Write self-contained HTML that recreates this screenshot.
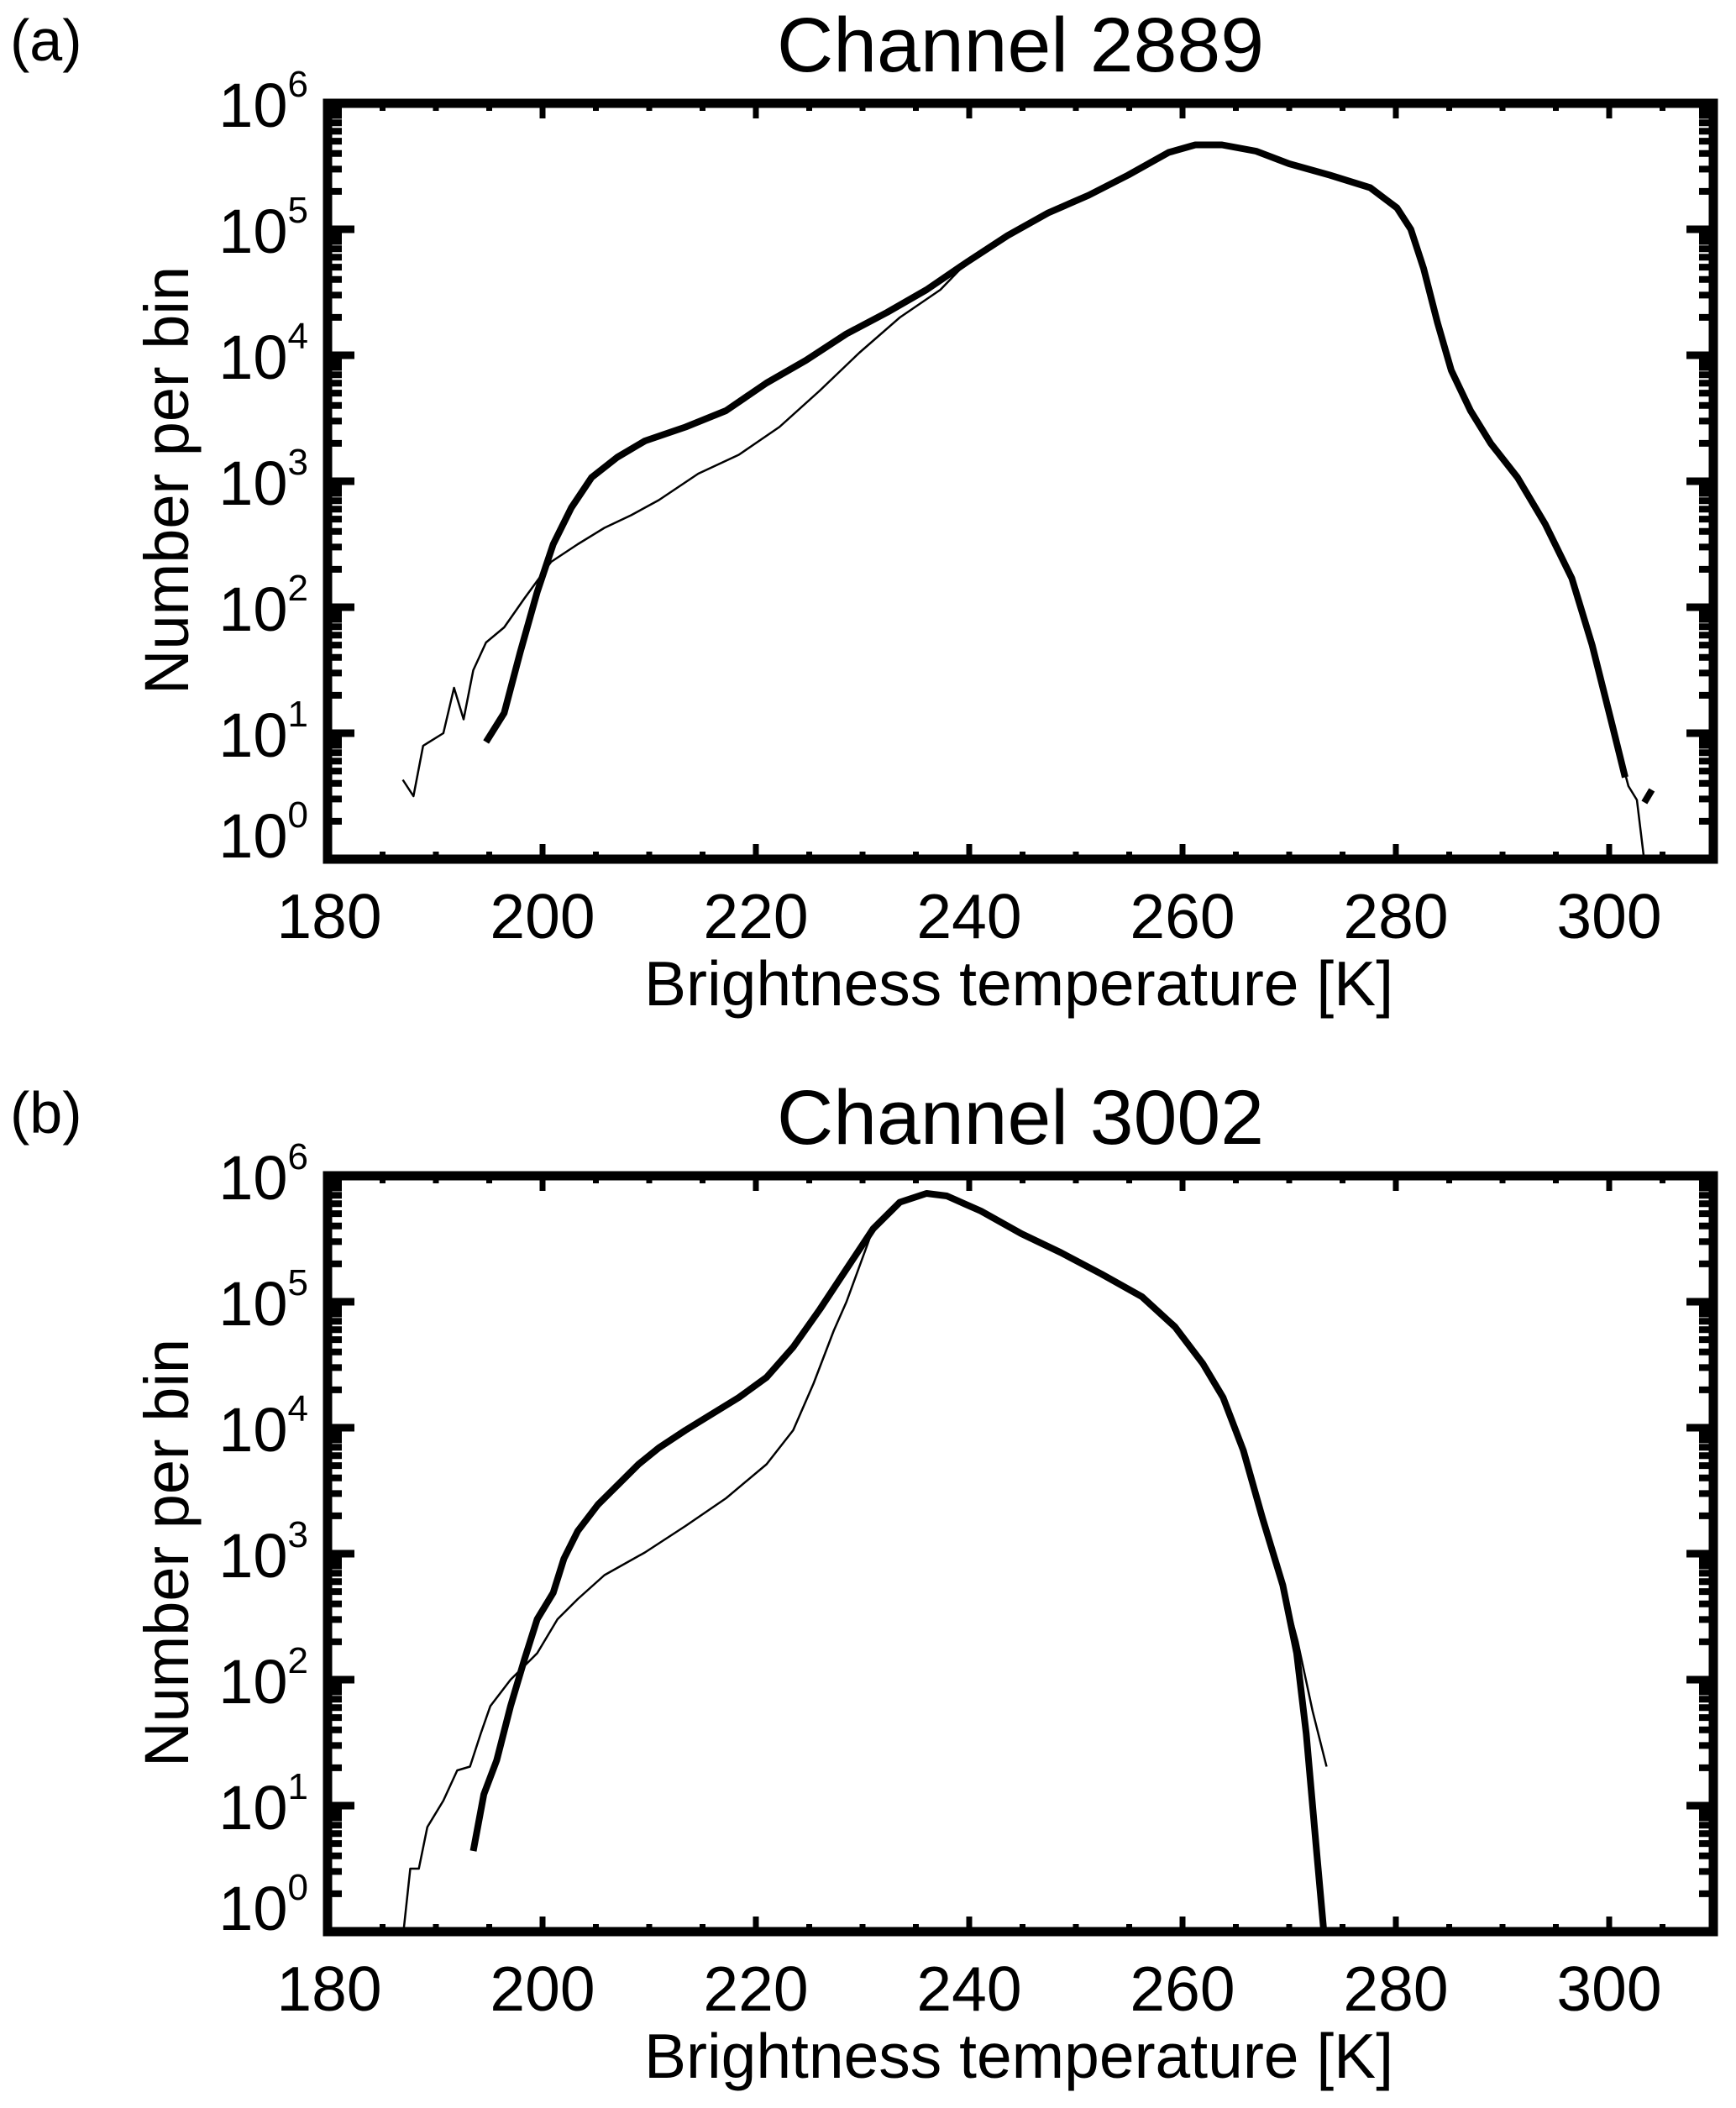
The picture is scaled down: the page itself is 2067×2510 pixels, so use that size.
<!DOCTYPE html>
<html><head><meta charset="utf-8">
<style>
html,body{margin:0;padding:0;background:#fff;}
svg{display:block;}
text{font-family:"Liberation Sans",sans-serif;fill:#000;}
</style></head>
<body>
<svg id="fig" width="2067" height="2510" viewBox="0 0 2067 2510" xmlns="http://www.w3.org/2000/svg"></svg>
<script>
// ---- Data (K, log10 count) ----
const xTicks = [180,200,220,240,260,280,300];
const yDecades = [0,1,2,3,4,5,6];
const titles = ["Channel 2889","Channel 3002"];
const panelLabels = ["(a)","(b)"];

const aThickT = [194.7,196.4,197.9,199.5,201,202.7,204.6,207,209.6,213.4,217.2,221,224.7,228.5,232.3,236,239.8,243.6,247.4,251.2,254.9,258.7,261.2,263.7,266.9,270,273.8,277.6,280.1,281.4,282.6,283.9,285.2,287,288.9,291.4,294,296.5,298.4,300.3,301.5];
const aThickL = [0.93,1.16,1.64,2.12,2.5,2.79,3.03,3.19,3.32,3.43,3.56,3.78,3.96,4.17,4.34,4.52,4.74,4.95,5.13,5.27,5.43,5.61,5.67,5.67,5.62,5.52,5.43,5.33,5.17,5.0,4.69,4.26,3.88,3.56,3.30,3.03,2.66,2.23,1.70,1.06,0.65];
const aStubT = [303.3,304.0];
const aStubL = [0.45,0.55];
const aThinT = [186.9,187.9,188.8,190.7,191.7,192.6,193.5,194.7,196.4,198.3,200.8,203.3,205.8,208.3,210.9,214.6,218.4,222.2,226,229.7,233.5,237.3,239.8,243.6,247.4,251.2,254.9,258.7,261.2,263.7,266.9,270,273.8,277.6,280.1,281.4,282.6,283.9,285.2,287,288.9,291.4,294,296.5,298.4,300.3,301.8,302.6,303.7];
const aThinL = [0.63,0.50,0.90,1.0,1.36,1.11,1.50,1.72,1.84,2.07,2.36,2.50,2.63,2.73,2.85,3.06,3.21,3.43,3.72,4.02,4.30,4.52,4.74,4.95,5.13,5.27,5.43,5.61,5.67,5.67,5.62,5.52,5.43,5.33,5.17,5.0,4.69,4.26,3.88,3.56,3.30,3.03,2.66,2.23,1.70,1.06,0.58,0.47,-0.3];

const bThickT = [193.5,194.5,195.7,197,198.3,199.5,201,202,203.3,205.2,207.1,209,210.9,213.4,215.9,218.4,221,223.5,226,228.5,231,233.5,236,237.9,241.1,244.9,248.6,252.4,256.2,259.3,261.9,263.8,265.7,267.5,269.4,270.7,271.6,272.6,273.3];
const bThickL = [0.64,1.09,1.36,1.79,2.16,2.48,2.69,2.96,3.18,3.39,3.55,3.71,3.84,3.98,4.11,4.24,4.40,4.64,4.94,5.26,5.58,5.79,5.86,5.84,5.72,5.54,5.39,5.22,5.04,4.80,4.51,4.24,3.82,3.28,2.75,2.21,1.57,0.61,-0.05];
const bThinT = [186.9,187.6,188.4,189.2,190.7,192,193.2,194.2,195.1,197,199.5,201.4,203.3,205.8,209.6,213.4,217.2,221,223.5,225.4,227.3,228.5,231,233.5,236,237.9,241.1,244.9,248.6,252.4,256.2,259.3,261.9,263.8,265.7,267.5,269.4,270.8,272.2,273.5];
const bThinL = [-0.05,0.5,0.5,0.83,1.04,1.28,1.31,1.57,1.79,2.0,2.21,2.48,2.64,2.83,3.01,3.22,3.44,3.71,3.98,4.35,4.77,5.0,5.58,5.79,5.86,5.84,5.72,5.54,5.39,5.22,5.04,4.80,4.51,4.24,3.82,3.28,2.75,2.3,1.75,1.31];

// ---- Layout ----
const SVGNS = "http://www.w3.org/2000/svg";
const svg = document.getElementById('fig');
const X0 = 392, PXK = 12.7, LEFT = 390, RIGHT = 2040;
function sx(t){ return X0 + (t-180)*PXK; }
function mk(tag, attrs, parent){
  const e = document.createElementNS(SVGNS, tag);
  for (const k in attrs) e.setAttribute(k, attrs[k]);
  (parent||svg).appendChild(e);
  return e;
}

function drawPanel(idx, off, series){
  const top = 123 + off, bot = 1023 + off;
  const D = (bot-top)/6;
  const sy = l => bot - l*D;
  const g = mk('g', {});
  
  

  const lab = mk('text', {x: 12, y: 72+off, 'font-size': 70}, g);
  lab.textContent = panelLabels[idx];
  
  

  const tt = mk('text', {x: 1215, y: 85+off, 'font-size': 92, 'text-anchor': 'middle', textLength: 580, lengthAdjust: 'spacingAndGlyphs'}, g);
  tt.textContent = titles[idx];
  
  

  const cid = 'clip'+idx;
  const cp = mk('clipPath', {id: cid}, g);
  mk('rect', {x: LEFT, y: top, width: RIGHT-LEFT, height: bot-top}, cp);

  const sg = mk('g', {'clip-path': 'url(#'+cid+')'}, g);
  series.forEach(s => {
    const d = s.t.map((t,i)=> (i?'L':'M') + sx(t).toFixed(1) + ' ' + sy(s.l[i]).toFixed(1)).join(' ');
    const p = mk('path', {d: d, fill: 'none', stroke: '#000', 'stroke-width': s.w, 'stroke-linejoin': 'round', 'stroke-linecap': 'butt'}, sg);
    
    
  });

  for (let t = 180; t <= 310; t += 5) {
    const major = (t % 20 === 0);
    const len = major ? 18 : 9;
    const x = sx(t);
    if (x < LEFT || x > RIGHT) continue;
    mk('line', {x1: x, x2: x, y1: bot, y2: bot-len, stroke: '#000', 'stroke-width': 7}, g);
    mk('line', {x1: x, x2: x, y1: top, y2: top+len, stroke: '#000', 'stroke-width': 7}, g);
  }
  xTicks.forEach(t => {
    const tl = mk('text', {x: sx(t), y: 1117+off, 'font-size': 75, 'text-anchor': 'middle'}, g);
    tl.textContent = String(t);
    
    
  });
  for (let dcd = 0; dcd < 6; dcd++) {
    for (let m = 2; m <= 9; m++) {
      const y = sy(dcd + Math.log10(m));
      mk('line', {x1: LEFT, x2: LEFT+17, y1: y, y2: y, stroke: '#000', 'stroke-width': 8}, g);
      mk('line', {x1: RIGHT, x2: RIGHT-17, y1: y, y2: y, stroke: '#000', 'stroke-width': 8}, g);
    }
  }
  yDecades.forEach(dcd => {
    const y = sy(dcd);
    mk('line', {x1: LEFT, x2: LEFT+32, y1: y, y2: y, stroke: '#000', 'stroke-width': 9}, g);
    mk('line', {x1: RIGHT, x2: RIGHT-32, y1: y, y2: y, stroke: '#000', 'stroke-width': 9}, g);
    const by = dcd === 0 ? y - 2 : y + 28;
    const tl = mk('text', {x: 367, y: by, 'font-size': 74, 'text-anchor': 'end'}, g);
    
    
    const t1 = mk('tspan', {}, tl); t1.textContent = '10';
    const t2 = mk('tspan', {'font-size': 44, dy: -36}, tl); t2.textContent = String(dcd);
  });
  const fr = mk('rect', {x: LEFT, y: top, width: RIGHT-LEFT, height: bot-top, fill: 'none', stroke: '#000', 'stroke-width': 11}, g);
  
  

  const xt = mk('text', {x: 1213, y: 1197+off, 'font-size': 75, 'text-anchor': 'middle'}, g);
  xt.textContent = 'Brightness temperature [K]';
  
  

  const yt = mk('text', {x: 0, y: 0, 'font-size': 74, 'text-anchor': 'middle', transform: 'translate(224,'+(572+off)+') rotate(-90)'}, g);
  yt.textContent = 'Number per bin';
  
  
}

drawPanel(0, 0, [
  {t: aThinT, l: aThinL, w: 2.5, name: 'thin-series-line'},
  {t: aThickT, l: aThickL, w: 8, name: 'thick-series-line'},
  {t: aStubT, l: aStubL, w: 8, name: 'thick-series-stub'}
]);
drawPanel(1, 1277, [
  {t: bThinT, l: bThinL, w: 2.5, name: 'thin-series-line'},
  {t: bThickT, l: bThickL, w: 8, name: 'thick-series-line'}
]);
</script>
</body></html>
